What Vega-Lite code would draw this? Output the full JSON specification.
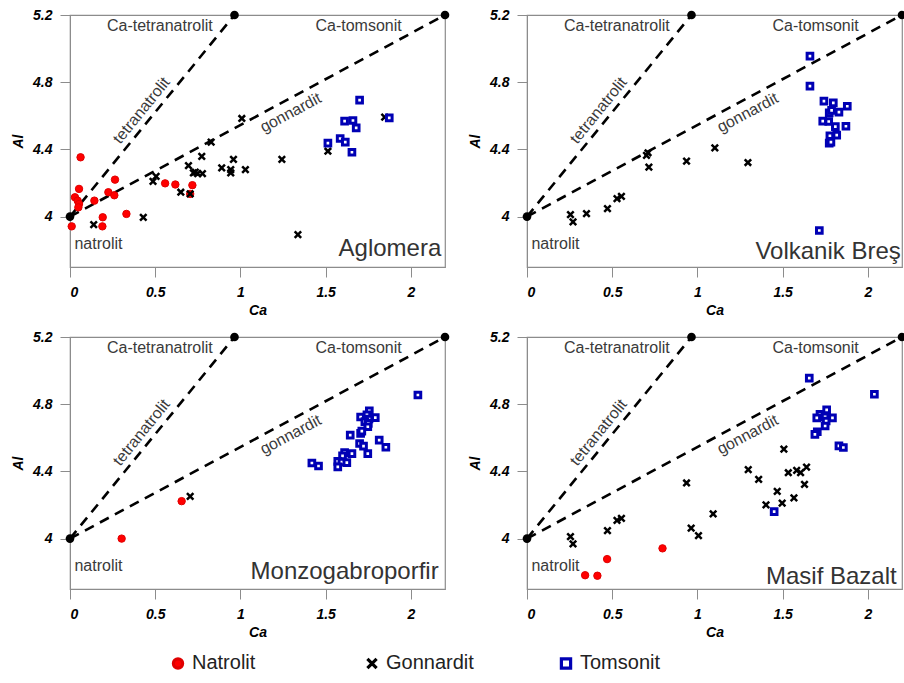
{
 "$schema": "https://vega.github.io/schema/vega-lite/v6.json",
 "padding": {"left": 10, "top": 7, "right": 0, "bottom": 0},
 "background": "white",
 "config": {
  "font": "Liberation Sans",
  "view": {"stroke": "#8c8c8c", "strokeWidth": 1.2},
  "axis": {"grid": false, "domainColor": "#8c8c8c", "tickColor": "#8c8c8c", "tickSize": 10, "labelFont": "Liberation Sans", "labelFontSize": 14, "labelFontWeight": "bold", "labelFontStyle": "italic", "labelColor": "#000", "titleFont": "Liberation Sans", "titleFontSize": 14, "titleFontWeight": "bold", "titleFontStyle": "italic", "titleColor": "#000", "format": "~g"},
  "axisX": {"labelPadding": 8, "titlePadding": 4},
  "axisY": {"labelPadding": 8, "titlePadding": 7},
  "legend": {"orient": "none", "legendX": 98, "legendY": 638, "direction": "horizontal", "columns": 3, "gridAlign": "all", "columnPadding": 80, "labelFontSize": 20, "labelFont": "Liberation Sans", "labelColor": "#222", "symbolSize": 85, "symbolStrokeWidth": 3.2, "labelOffset": 4, "title": null}
 },
 "datasets": {
  "ref": [{"line": "t", "Ca": 0, "Al": 4}, {"line": "t", "Ca": 0.965, "Al": 5.2}, {"line": "g", "Ca": 0, "Al": 4}, {"line": "g", "Ca": 2.2, "Al": 5.2}],
  "ends": [{"Ca": 0, "Al": 4}, {"Ca": 0.965, "Al": 5.2}, {"Ca": 2.2, "Al": 5.2}],
  "labels": [{"t": "Ca-tetranatrolit", "Ca": 0.527, "Al": 5.135}, {"t": "Ca-tomsonit", "Ca": 1.693, "Al": 5.134}, {"t": "natrolit", "Ca": 0.167, "Al": 3.835}, {"t": "tetranatrolit", "Ca": 0.42, "Al": 4.632}, {"t": "gonnardit", "Ca": 1.295, "Al": 4.618}],
  "names": [{"p": "Aglomera", "Ca": 2.178, "Al": 3.763}, {"p": "Volkanik Breş", "Ca": 2.193, "Al": 3.745}, {"p": "Monzogabroporfir", "Ca": 2.163, "Al": 3.758}, {"p": "Masif Bazalt", "Ca": 2.169, "Al": 3.73}],
  "points": [
   {"p": "Aglomera", "m": "Natrolit", "Ca": 0.062, "Al": 4.353},
   {"p": "Aglomera", "m": "Natrolit", "Ca": 0.264, "Al": 4.22},
   {"p": "Aglomera", "m": "Natrolit", "Ca": 0.053, "Al": 4.165},
   {"p": "Aglomera", "m": "Natrolit", "Ca": 0.029, "Al": 4.115},
   {"p": "Aglomera", "m": "Natrolit", "Ca": 0.045, "Al": 4.095},
   {"p": "Aglomera", "m": "Natrolit", "Ca": 0.053, "Al": 4.075},
   {"p": "Aglomera", "m": "Natrolit", "Ca": 0.049, "Al": 4.055},
   {"p": "Aglomera", "m": "Natrolit", "Ca": 0.143, "Al": 4.095},
   {"p": "Aglomera", "m": "Natrolit", "Ca": 0.225, "Al": 4.145},
   {"p": "Aglomera", "m": "Natrolit", "Ca": 0.26, "Al": 4.127},
   {"p": "Aglomera", "m": "Natrolit", "Ca": 0.331, "Al": 4.016},
   {"p": "Aglomera", "m": "Natrolit", "Ca": 0.192, "Al": 3.996},
   {"p": "Aglomera", "m": "Natrolit", "Ca": 0.19, "Al": 3.942},
   {"p": "Aglomera", "m": "Natrolit", "Ca": 0.01, "Al": 3.942},
   {"p": "Aglomera", "m": "Natrolit", "Ca": 0.558, "Al": 4.198},
   {"p": "Aglomera", "m": "Natrolit", "Ca": 0.618, "Al": 4.191},
   {"p": "Aglomera", "m": "Natrolit", "Ca": 0.718, "Al": 4.187},
   {"p": "Aglomera", "m": "Natrolit", "Ca": 0.705, "Al": 4.135},
   {"p": "Aglomera", "m": "Gonnardit", "Ca": 0.139, "Al": 3.952},
   {"p": "Aglomera", "m": "Gonnardit", "Ca": 0.43, "Al": 3.996},
   {"p": "Aglomera", "m": "Gonnardit", "Ca": 0.487, "Al": 4.21},
   {"p": "Aglomera", "m": "Gonnardit", "Ca": 0.505, "Al": 4.24},
   {"p": "Aglomera", "m": "Gonnardit", "Ca": 0.65, "Al": 4.145},
   {"p": "Aglomera", "m": "Gonnardit", "Ca": 0.705, "Al": 4.135},
   {"p": "Aglomera", "m": "Gonnardit", "Ca": 0.695, "Al": 4.304},
   {"p": "Aglomera", "m": "Gonnardit", "Ca": 0.724, "Al": 4.26},
   {"p": "Aglomera", "m": "Gonnardit", "Ca": 0.749, "Al": 4.256},
   {"p": "Aglomera", "m": "Gonnardit", "Ca": 0.777, "Al": 4.256},
   {"p": "Aglomera", "m": "Gonnardit", "Ca": 0.735, "Al": 4.265},
   {"p": "Aglomera", "m": "Gonnardit", "Ca": 0.773, "Al": 4.359},
   {"p": "Aglomera", "m": "Gonnardit", "Ca": 0.828, "Al": 4.443},
   {"p": "Aglomera", "m": "Gonnardit", "Ca": 0.89, "Al": 4.29},
   {"p": "Aglomera", "m": "Gonnardit", "Ca": 0.943, "Al": 4.28},
   {"p": "Aglomera", "m": "Gonnardit", "Ca": 0.943, "Al": 4.26},
   {"p": "Aglomera", "m": "Gonnardit", "Ca": 0.959, "Al": 4.34},
   {"p": "Aglomera", "m": "Gonnardit", "Ca": 1.008, "Al": 4.584},
   {"p": "Aglomera", "m": "Gonnardit", "Ca": 1.029, "Al": 4.28},
   {"p": "Aglomera", "m": "Gonnardit", "Ca": 1.243, "Al": 4.34},
   {"p": "Aglomera", "m": "Gonnardit", "Ca": 1.337, "Al": 3.893},
   {"p": "Aglomera", "m": "Gonnardit", "Ca": 1.513, "Al": 4.389},
   {"p": "Aglomera", "m": "Gonnardit", "Ca": 1.846, "Al": 4.592},
   {"p": "Aglomera", "m": "Tomsonit", "Ca": 1.699, "Al": 4.693},
   {"p": "Aglomera", "m": "Tomsonit", "Ca": 1.611, "Al": 4.568},
   {"p": "Aglomera", "m": "Tomsonit", "Ca": 1.66, "Al": 4.572},
   {"p": "Aglomera", "m": "Tomsonit", "Ca": 1.679, "Al": 4.528},
   {"p": "Aglomera", "m": "Tomsonit", "Ca": 1.585, "Al": 4.465},
   {"p": "Aglomera", "m": "Tomsonit", "Ca": 1.615, "Al": 4.443},
   {"p": "Aglomera", "m": "Tomsonit", "Ca": 1.513, "Al": 4.437},
   {"p": "Aglomera", "m": "Tomsonit", "Ca": 1.654, "Al": 4.383},
   {"p": "Aglomera", "m": "Tomsonit", "Ca": 1.873, "Al": 4.588},
   {"p": "Volkanik Breş", "m": "Gonnardit", "Ca": 0.255, "Al": 4.012},
   {"p": "Volkanik Breş", "m": "Gonnardit", "Ca": 0.27, "Al": 3.968},
   {"p": "Volkanik Breş", "m": "Gonnardit", "Ca": 0.349, "Al": 4.018},
   {"p": "Volkanik Breş", "m": "Gonnardit", "Ca": 0.472, "Al": 4.048},
   {"p": "Volkanik Breş", "m": "Gonnardit", "Ca": 0.528, "Al": 4.107},
   {"p": "Volkanik Breş", "m": "Gonnardit", "Ca": 0.554, "Al": 4.121},
   {"p": "Volkanik Breş", "m": "Gonnardit", "Ca": 0.701, "Al": 4.365},
   {"p": "Volkanik Breş", "m": "Gonnardit", "Ca": 0.71, "Al": 4.38},
   {"p": "Volkanik Breş", "m": "Gonnardit", "Ca": 0.715, "Al": 4.294},
   {"p": "Volkanik Breş", "m": "Gonnardit", "Ca": 0.936, "Al": 4.33},
   {"p": "Volkanik Breş", "m": "Gonnardit", "Ca": 1.102, "Al": 4.409},
   {"p": "Volkanik Breş", "m": "Gonnardit", "Ca": 1.296, "Al": 4.322},
   {"p": "Volkanik Breş", "m": "Tomsonit", "Ca": 1.66, "Al": 4.955},
   {"p": "Volkanik Breş", "m": "Tomsonit", "Ca": 1.66, "Al": 4.777},
   {"p": "Volkanik Breş", "m": "Tomsonit", "Ca": 1.742, "Al": 4.687},
   {"p": "Volkanik Breş", "m": "Tomsonit", "Ca": 1.797, "Al": 4.677},
   {"p": "Volkanik Breş", "m": "Tomsonit", "Ca": 1.879, "Al": 4.657},
   {"p": "Volkanik Breş", "m": "Tomsonit", "Ca": 1.773, "Al": 4.617},
   {"p": "Volkanik Breş", "m": "Tomsonit", "Ca": 1.83, "Al": 4.622},
   {"p": "Volkanik Breş", "m": "Tomsonit", "Ca": 1.787, "Al": 4.632},
   {"p": "Volkanik Breş", "m": "Tomsonit", "Ca": 1.735, "Al": 4.568},
   {"p": "Volkanik Breş", "m": "Tomsonit", "Ca": 1.77, "Al": 4.566},
   {"p": "Volkanik Breş", "m": "Tomsonit", "Ca": 1.809, "Al": 4.536},
   {"p": "Volkanik Breş", "m": "Tomsonit", "Ca": 1.871, "Al": 4.538},
   {"p": "Volkanik Breş", "m": "Tomsonit", "Ca": 1.817, "Al": 4.485},
   {"p": "Volkanik Breş", "m": "Tomsonit", "Ca": 1.777, "Al": 4.481},
   {"p": "Volkanik Breş", "m": "Tomsonit", "Ca": 1.773, "Al": 4.437},
   {"p": "Volkanik Breş", "m": "Tomsonit", "Ca": 1.783, "Al": 4.443},
   {"p": "Volkanik Breş", "m": "Tomsonit", "Ca": 1.715, "Al": 3.917},
   {"p": "Monzogabroporfir", "m": "Natrolit", "Ca": 0.303, "Al": 4.0},
   {"p": "Monzogabroporfir", "m": "Natrolit", "Ca": 0.655, "Al": 4.223},
   {"p": "Monzogabroporfir", "m": "Gonnardit", "Ca": 0.705, "Al": 4.251},
   {"p": "Monzogabroporfir", "m": "Tomsonit", "Ca": 2.041, "Al": 4.855},
   {"p": "Monzogabroporfir", "m": "Tomsonit", "Ca": 1.756, "Al": 4.76},
   {"p": "Monzogabroporfir", "m": "Tomsonit", "Ca": 1.742, "Al": 4.736},
   {"p": "Monzogabroporfir", "m": "Tomsonit", "Ca": 1.705, "Al": 4.724},
   {"p": "Monzogabroporfir", "m": "Tomsonit", "Ca": 1.791, "Al": 4.72},
   {"p": "Monzogabroporfir", "m": "Tomsonit", "Ca": 1.754, "Al": 4.712},
   {"p": "Monzogabroporfir", "m": "Tomsonit", "Ca": 1.73, "Al": 4.696},
   {"p": "Monzogabroporfir", "m": "Tomsonit", "Ca": 1.75, "Al": 4.686},
   {"p": "Monzogabroporfir", "m": "Tomsonit", "Ca": 1.747, "Al": 4.666},
   {"p": "Monzogabroporfir", "m": "Tomsonit", "Ca": 1.644, "Al": 4.616},
   {"p": "Monzogabroporfir", "m": "Tomsonit", "Ca": 1.705, "Al": 4.626},
   {"p": "Monzogabroporfir", "m": "Tomsonit", "Ca": 1.712, "Al": 4.64},
   {"p": "Monzogabroporfir", "m": "Tomsonit", "Ca": 1.699, "Al": 4.566},
   {"p": "Monzogabroporfir", "m": "Tomsonit", "Ca": 1.722, "Al": 4.55},
   {"p": "Monzogabroporfir", "m": "Tomsonit", "Ca": 1.747, "Al": 4.506},
   {"p": "Monzogabroporfir", "m": "Tomsonit", "Ca": 1.814, "Al": 4.586},
   {"p": "Monzogabroporfir", "m": "Tomsonit", "Ca": 1.853, "Al": 4.544},
   {"p": "Monzogabroporfir", "m": "Tomsonit", "Ca": 1.611, "Al": 4.512},
   {"p": "Monzogabroporfir", "m": "Tomsonit", "Ca": 1.654, "Al": 4.506},
   {"p": "Monzogabroporfir", "m": "Tomsonit", "Ca": 1.599, "Al": 4.492},
   {"p": "Monzogabroporfir", "m": "Tomsonit", "Ca": 1.571, "Al": 4.46},
   {"p": "Monzogabroporfir", "m": "Tomsonit", "Ca": 1.595, "Al": 4.456},
   {"p": "Monzogabroporfir", "m": "Tomsonit", "Ca": 1.624, "Al": 4.452},
   {"p": "Monzogabroporfir", "m": "Tomsonit", "Ca": 1.571, "Al": 4.427},
   {"p": "Monzogabroporfir", "m": "Tomsonit", "Ca": 1.419, "Al": 4.45},
   {"p": "Monzogabroporfir", "m": "Tomsonit", "Ca": 1.458, "Al": 4.432},
   {"p": "Masif Bazalt", "m": "Natrolit", "Ca": 0.341, "Al": 3.782},
   {"p": "Masif Bazalt", "m": "Natrolit", "Ca": 0.413, "Al": 3.779},
   {"p": "Masif Bazalt", "m": "Natrolit", "Ca": 0.47, "Al": 3.878},
   {"p": "Masif Bazalt", "m": "Natrolit", "Ca": 0.795, "Al": 3.942},
   {"p": "Masif Bazalt", "m": "Gonnardit", "Ca": 0.255, "Al": 4.012},
   {"p": "Masif Bazalt", "m": "Gonnardit", "Ca": 0.27, "Al": 3.968},
   {"p": "Masif Bazalt", "m": "Gonnardit", "Ca": 0.472, "Al": 4.048},
   {"p": "Masif Bazalt", "m": "Gonnardit", "Ca": 0.528, "Al": 4.108},
   {"p": "Masif Bazalt", "m": "Gonnardit", "Ca": 0.554, "Al": 4.121},
   {"p": "Masif Bazalt", "m": "Gonnardit", "Ca": 0.936, "Al": 4.331},
   {"p": "Masif Bazalt", "m": "Gonnardit", "Ca": 0.963, "Al": 4.062},
   {"p": "Masif Bazalt", "m": "Gonnardit", "Ca": 1.006, "Al": 4.018},
   {"p": "Masif Bazalt", "m": "Gonnardit", "Ca": 1.092, "Al": 4.147},
   {"p": "Masif Bazalt", "m": "Gonnardit", "Ca": 1.298, "Al": 4.41},
   {"p": "Masif Bazalt", "m": "Gonnardit", "Ca": 1.359, "Al": 4.353},
   {"p": "Masif Bazalt", "m": "Gonnardit", "Ca": 1.402, "Al": 4.201},
   {"p": "Masif Bazalt", "m": "Gonnardit", "Ca": 1.507, "Al": 4.532},
   {"p": "Masif Bazalt", "m": "Gonnardit", "Ca": 1.533, "Al": 4.392},
   {"p": "Masif Bazalt", "m": "Gonnardit", "Ca": 1.582, "Al": 4.406},
   {"p": "Masif Bazalt", "m": "Gonnardit", "Ca": 1.605, "Al": 4.392},
   {"p": "Masif Bazalt", "m": "Gonnardit", "Ca": 1.64, "Al": 4.425},
   {"p": "Masif Bazalt", "m": "Gonnardit", "Ca": 1.628, "Al": 4.323},
   {"p": "Masif Bazalt", "m": "Gonnardit", "Ca": 1.566, "Al": 4.243},
   {"p": "Masif Bazalt", "m": "Gonnardit", "Ca": 1.468, "Al": 4.281},
   {"p": "Masif Bazalt", "m": "Gonnardit", "Ca": 1.497, "Al": 4.211},
   {"p": "Masif Bazalt", "m": "Tomsonit", "Ca": 1.45, "Al": 4.161},
   {"p": "Masif Bazalt", "m": "Tomsonit", "Ca": 1.656, "Al": 4.955},
   {"p": "Masif Bazalt", "m": "Tomsonit", "Ca": 2.038, "Al": 4.859},
   {"p": "Masif Bazalt", "m": "Tomsonit", "Ca": 1.758, "Al": 4.766},
   {"p": "Masif Bazalt", "m": "Tomsonit", "Ca": 1.719, "Al": 4.739},
   {"p": "Masif Bazalt", "m": "Tomsonit", "Ca": 1.7, "Al": 4.719},
   {"p": "Masif Bazalt", "m": "Tomsonit", "Ca": 1.792, "Al": 4.719},
   {"p": "Masif Bazalt", "m": "Tomsonit", "Ca": 1.749, "Al": 4.725},
   {"p": "Masif Bazalt", "m": "Tomsonit", "Ca": 1.755, "Al": 4.7},
   {"p": "Masif Bazalt", "m": "Tomsonit", "Ca": 1.749, "Al": 4.67},
   {"p": "Masif Bazalt", "m": "Tomsonit", "Ca": 1.703, "Al": 4.636},
   {"p": "Masif Bazalt", "m": "Tomsonit", "Ca": 1.689, "Al": 4.62},
   {"p": "Masif Bazalt", "m": "Tomsonit", "Ca": 1.83, "Al": 4.552},
   {"p": "Masif Bazalt", "m": "Tomsonit", "Ca": 1.856, "Al": 4.542}
  ]
 },
 "columns": 2,
 "spacing": {"row": 11, "column": 16},
 "concat": [
  {"width": 375, "height": 252,
   "encoding": {"x": {"field": "Ca", "type": "quantitative", "scale": {"domain": [0, 2.2], "nice": false, "zero": false}, "axis": {"values": [0, 0.5, 1, 1.5, 2], "title": "Ca"}}, "y": {"field": "Al", "type": "quantitative", "scale": {"domain": [3.7, 5.2], "nice": false, "zero": false}, "axis": {"values": [4, 4.4, 4.8, 5.2], "title": "Al"}}, "shape": {"field": "m", "type": "nominal", "title": null, "scale": {"domain": ["Natrolit", "Gonnardit", "Tomsonit"], "range": ["circle", "M-1,-1L1,1M1,-1L-1,1", "square"]}}, "fill": {"field": "m", "type": "nominal", "title": null, "scale": {"domain": ["Natrolit", "Gonnardit", "Tomsonit"], "range": ["#ff0000", "#000000", "#ffffff"]}}, "stroke": {"field": "m", "type": "nominal", "title": null, "scale": {"domain": ["Natrolit", "Gonnardit", "Tomsonit"], "range": ["#e00000", "#000000", "#0000b4"]}}},
   "layer": [
    {"data": {"name": "ref"}, "mark": {"type": "line", "strokeDash": [10, 7], "strokeWidth": 2.6, "color": "#000"}, "encoding": {"detail": {"field": "line"}, "shape": null, "fill": null, "stroke": null}},
    {"data": {"name": "labels"}, "transform": [{"filter": "datum.t==='Ca-tetranatrolit'||datum.t==='Ca-tomsonit'||datum.t==='natrolit'"}], "mark": {"type": "text", "fontSize": 16, "color": "#3a3a3a"}, "encoding": {"text": {"field": "t"}, "shape": null, "fill": null, "stroke": null}},
    {"data": {"name": "labels"}, "transform": [{"filter": "datum.t==='tetranatrolit'"}], "mark": {"type": "text", "fontSize": 16, "color": "#3a3a3a", "angle": 309}, "encoding": {"text": {"field": "t"}, "shape": null, "fill": null, "stroke": null}},
    {"data": {"name": "labels"}, "transform": [{"filter": "datum.t==='gonnardit'"}], "mark": {"type": "text", "fontSize": 16, "color": "#3a3a3a", "angle": 332}, "encoding": {"text": {"field": "t"}, "shape": null, "fill": null, "stroke": null}},
    {"data": {"name": "names"}, "transform": [{"filter": "datum.p==='Aglomera'"}], "mark": {"type": "text", "fontSize": 24, "color": "#333", "align": "right", "baseline": "alphabetic"}, "encoding": {"text": {"field": "p"}, "shape": null, "fill": null, "stroke": null}},
    {"data": {"name": "points"}, "transform": [{"filter": "datum.p==='Aglomera' && datum.m==='Natrolit'"}], "mark": {"type": "point", "filled": true, "size": 55, "strokeWidth": 1, "opacity": 1}},
    {"data": {"name": "points"}, "transform": [{"filter": "datum.p==='Aglomera' && datum.m==='Gonnardit'"}], "mark": {"type": "point", "filled": true, "size": 42, "strokeWidth": 2.5, "opacity": 1}},
    {"data": {"name": "points"}, "transform": [{"filter": "datum.p==='Aglomera' && datum.m==='Tomsonit'"}], "mark": {"type": "point", "filled": true, "size": 32, "strokeWidth": 3, "opacity": 1}},
    {"data": {"name": "ends"}, "mark": {"type": "point", "filled": true, "size": 75, "color": "#000", "opacity": 1}, "encoding": {"shape": null, "fill": null, "stroke": null}}
   ]},
  {"width": 375, "height": 252,
   "encoding": {"x": {"field": "Ca", "type": "quantitative", "scale": {"domain": [0, 2.2], "nice": false, "zero": false}, "axis": {"values": [0, 0.5, 1, 1.5, 2], "title": "Ca"}}, "y": {"field": "Al", "type": "quantitative", "scale": {"domain": [3.7, 5.2], "nice": false, "zero": false}, "axis": {"values": [4, 4.4, 4.8, 5.2], "title": "Al"}}, "shape": {"field": "m", "type": "nominal", "title": null, "scale": {"domain": ["Natrolit", "Gonnardit", "Tomsonit"], "range": ["circle", "M-1,-1L1,1M1,-1L-1,1", "square"]}}, "fill": {"field": "m", "type": "nominal", "title": null, "scale": {"domain": ["Natrolit", "Gonnardit", "Tomsonit"], "range": ["#ff0000", "#000000", "#ffffff"]}}, "stroke": {"field": "m", "type": "nominal", "title": null, "scale": {"domain": ["Natrolit", "Gonnardit", "Tomsonit"], "range": ["#e00000", "#000000", "#0000b4"]}}},
   "layer": [
    {"data": {"name": "ref"}, "mark": {"type": "line", "strokeDash": [10, 7], "strokeWidth": 2.6, "color": "#000"}, "encoding": {"detail": {"field": "line"}, "shape": null, "fill": null, "stroke": null}},
    {"data": {"name": "labels"}, "transform": [{"filter": "datum.t==='Ca-tetranatrolit'||datum.t==='Ca-tomsonit'||datum.t==='natrolit'"}], "mark": {"type": "text", "fontSize": 16, "color": "#3a3a3a"}, "encoding": {"text": {"field": "t"}, "shape": null, "fill": null, "stroke": null}},
    {"data": {"name": "labels"}, "transform": [{"filter": "datum.t==='tetranatrolit'"}], "mark": {"type": "text", "fontSize": 16, "color": "#3a3a3a", "angle": 309}, "encoding": {"text": {"field": "t"}, "shape": null, "fill": null, "stroke": null}},
    {"data": {"name": "labels"}, "transform": [{"filter": "datum.t==='gonnardit'"}], "mark": {"type": "text", "fontSize": 16, "color": "#3a3a3a", "angle": 332}, "encoding": {"text": {"field": "t"}, "shape": null, "fill": null, "stroke": null}},
    {"data": {"name": "names"}, "transform": [{"filter": "datum.p==='Volkanik Breş'"}], "mark": {"type": "text", "fontSize": 24, "color": "#333", "align": "right", "baseline": "alphabetic"}, "encoding": {"text": {"field": "p"}, "shape": null, "fill": null, "stroke": null}},
    {"data": {"name": "points"}, "transform": [{"filter": "datum.p==='Volkanik Breş' && datum.m==='Natrolit'"}], "mark": {"type": "point", "filled": true, "size": 55, "strokeWidth": 1, "opacity": 1}},
    {"data": {"name": "points"}, "transform": [{"filter": "datum.p==='Volkanik Breş' && datum.m==='Gonnardit'"}], "mark": {"type": "point", "filled": true, "size": 42, "strokeWidth": 2.5, "opacity": 1}},
    {"data": {"name": "points"}, "transform": [{"filter": "datum.p==='Volkanik Breş' && datum.m==='Tomsonit'"}], "mark": {"type": "point", "filled": true, "size": 32, "strokeWidth": 3, "opacity": 1}},
    {"data": {"name": "ends"}, "mark": {"type": "point", "filled": true, "size": 75, "color": "#000", "opacity": 1}, "encoding": {"shape": null, "fill": null, "stroke": null}}
   ]},
  {"width": 375, "height": 252,
   "encoding": {"x": {"field": "Ca", "type": "quantitative", "scale": {"domain": [0, 2.2], "nice": false, "zero": false}, "axis": {"values": [0, 0.5, 1, 1.5, 2], "title": "Ca"}}, "y": {"field": "Al", "type": "quantitative", "scale": {"domain": [3.7, 5.2], "nice": false, "zero": false}, "axis": {"values": [4, 4.4, 4.8, 5.2], "title": "Al"}}, "shape": {"field": "m", "type": "nominal", "title": null, "scale": {"domain": ["Natrolit", "Gonnardit", "Tomsonit"], "range": ["circle", "M-1,-1L1,1M1,-1L-1,1", "square"]}}, "fill": {"field": "m", "type": "nominal", "title": null, "scale": {"domain": ["Natrolit", "Gonnardit", "Tomsonit"], "range": ["#ff0000", "#000000", "#ffffff"]}}, "stroke": {"field": "m", "type": "nominal", "title": null, "scale": {"domain": ["Natrolit", "Gonnardit", "Tomsonit"], "range": ["#e00000", "#000000", "#0000b4"]}}},
   "layer": [
    {"data": {"name": "ref"}, "mark": {"type": "line", "strokeDash": [10, 7], "strokeWidth": 2.6, "color": "#000"}, "encoding": {"detail": {"field": "line"}, "shape": null, "fill": null, "stroke": null}},
    {"data": {"name": "labels"}, "transform": [{"filter": "datum.t==='Ca-tetranatrolit'||datum.t==='Ca-tomsonit'||datum.t==='natrolit'"}], "mark": {"type": "text", "fontSize": 16, "color": "#3a3a3a"}, "encoding": {"text": {"field": "t"}, "shape": null, "fill": null, "stroke": null}},
    {"data": {"name": "labels"}, "transform": [{"filter": "datum.t==='tetranatrolit'"}], "mark": {"type": "text", "fontSize": 16, "color": "#3a3a3a", "angle": 309}, "encoding": {"text": {"field": "t"}, "shape": null, "fill": null, "stroke": null}},
    {"data": {"name": "labels"}, "transform": [{"filter": "datum.t==='gonnardit'"}], "mark": {"type": "text", "fontSize": 16, "color": "#3a3a3a", "angle": 332}, "encoding": {"text": {"field": "t"}, "shape": null, "fill": null, "stroke": null}},
    {"data": {"name": "names"}, "transform": [{"filter": "datum.p==='Monzogabroporfir'"}], "mark": {"type": "text", "fontSize": 24, "color": "#333", "align": "right", "baseline": "alphabetic"}, "encoding": {"text": {"field": "p"}, "shape": null, "fill": null, "stroke": null}},
    {"data": {"name": "points"}, "transform": [{"filter": "datum.p==='Monzogabroporfir' && datum.m==='Natrolit'"}], "mark": {"type": "point", "filled": true, "size": 55, "strokeWidth": 1, "opacity": 1}},
    {"data": {"name": "points"}, "transform": [{"filter": "datum.p==='Monzogabroporfir' && datum.m==='Gonnardit'"}], "mark": {"type": "point", "filled": true, "size": 42, "strokeWidth": 2.5, "opacity": 1}},
    {"data": {"name": "points"}, "transform": [{"filter": "datum.p==='Monzogabroporfir' && datum.m==='Tomsonit'"}], "mark": {"type": "point", "filled": true, "size": 32, "strokeWidth": 3, "opacity": 1}},
    {"data": {"name": "ends"}, "mark": {"type": "point", "filled": true, "size": 75, "color": "#000", "opacity": 1}, "encoding": {"shape": null, "fill": null, "stroke": null}}
   ]},
  {"width": 375, "height": 252,
   "encoding": {"x": {"field": "Ca", "type": "quantitative", "scale": {"domain": [0, 2.2], "nice": false, "zero": false}, "axis": {"values": [0, 0.5, 1, 1.5, 2], "title": "Ca"}}, "y": {"field": "Al", "type": "quantitative", "scale": {"domain": [3.7, 5.2], "nice": false, "zero": false}, "axis": {"values": [4, 4.4, 4.8, 5.2], "title": "Al"}}, "shape": {"field": "m", "type": "nominal", "title": null, "scale": {"domain": ["Natrolit", "Gonnardit", "Tomsonit"], "range": ["circle", "M-1,-1L1,1M1,-1L-1,1", "square"]}}, "fill": {"field": "m", "type": "nominal", "title": null, "scale": {"domain": ["Natrolit", "Gonnardit", "Tomsonit"], "range": ["#ff0000", "#000000", "#ffffff"]}}, "stroke": {"field": "m", "type": "nominal", "title": null, "scale": {"domain": ["Natrolit", "Gonnardit", "Tomsonit"], "range": ["#e00000", "#000000", "#0000b4"]}}},
   "layer": [
    {"data": {"name": "ref"}, "mark": {"type": "line", "strokeDash": [10, 7], "strokeWidth": 2.6, "color": "#000"}, "encoding": {"detail": {"field": "line"}, "shape": null, "fill": null, "stroke": null}},
    {"data": {"name": "labels"}, "transform": [{"filter": "datum.t==='Ca-tetranatrolit'||datum.t==='Ca-tomsonit'||datum.t==='natrolit'"}], "mark": {"type": "text", "fontSize": 16, "color": "#3a3a3a"}, "encoding": {"text": {"field": "t"}, "shape": null, "fill": null, "stroke": null}},
    {"data": {"name": "labels"}, "transform": [{"filter": "datum.t==='tetranatrolit'"}], "mark": {"type": "text", "fontSize": 16, "color": "#3a3a3a", "angle": 309}, "encoding": {"text": {"field": "t"}, "shape": null, "fill": null, "stroke": null}},
    {"data": {"name": "labels"}, "transform": [{"filter": "datum.t==='gonnardit'"}], "mark": {"type": "text", "fontSize": 16, "color": "#3a3a3a", "angle": 332}, "encoding": {"text": {"field": "t"}, "shape": null, "fill": null, "stroke": null}},
    {"data": {"name": "names"}, "transform": [{"filter": "datum.p==='Masif Bazalt'"}], "mark": {"type": "text", "fontSize": 24, "color": "#333", "align": "right", "baseline": "alphabetic"}, "encoding": {"text": {"field": "p"}, "shape": null, "fill": null, "stroke": null}},
    {"data": {"name": "points"}, "transform": [{"filter": "datum.p==='Masif Bazalt' && datum.m==='Natrolit'"}], "mark": {"type": "point", "filled": true, "size": 55, "strokeWidth": 1, "opacity": 1}},
    {"data": {"name": "points"}, "transform": [{"filter": "datum.p==='Masif Bazalt' && datum.m==='Gonnardit'"}], "mark": {"type": "point", "filled": true, "size": 42, "strokeWidth": 2.5, "opacity": 1}},
    {"data": {"name": "points"}, "transform": [{"filter": "datum.p==='Masif Bazalt' && datum.m==='Tomsonit'"}], "mark": {"type": "point", "filled": true, "size": 32, "strokeWidth": 3, "opacity": 1}},
    {"data": {"name": "ends"}, "mark": {"type": "point", "filled": true, "size": 75, "color": "#000", "opacity": 1}, "encoding": {"shape": null, "fill": null, "stroke": null}}
   ]}
 ]
}
